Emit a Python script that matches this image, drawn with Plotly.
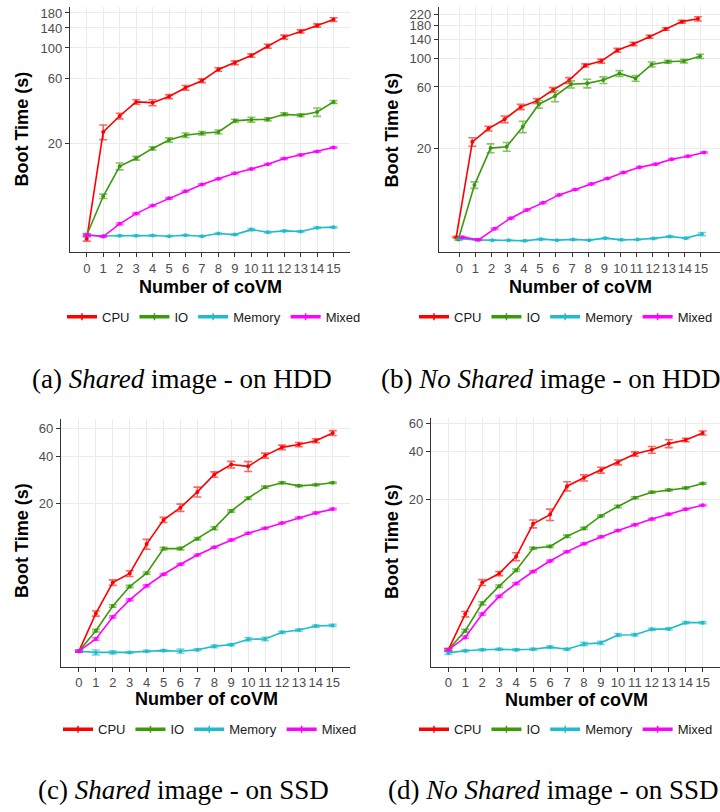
import plotly.graph_objects as go

# ---------------- data ----------------
coVM = list(range(16))
x_tick_labels = [str(i) for i in coVM]
workloads = ["CPU", "IO", "Memory", "Mixed"]

# (a) Shared image - on HDD
a_cpu = [4.05, 24.4, 31.9, 40.4, 39.9, 44.2, 51.3, 57.7, 69.7, 78.0, 88.1, 103, 120, 132, 146, 161]
a_cpu_err = [0.15, 3.0, 1.5, 1.5, 2.0, 1.5, 2.0, 1.8, 2.0, 2.5, 2.5, 3.5, 4.0, 3.5, 4.0, 5.0]
a_io = [4.32, 8.28, 13.7, 15.7, 18.5, 21.3, 23.1, 23.9, 24.4, 29.4, 30.0, 30.2, 32.8, 32.3, 34.1, 40.4]
a_io_err = [0.05, 0.3, 0.8, 0.5, 0.5, 0.8, 0.9, 0.7, 0.8, 0.8, 1.2, 0.8, 0.8, 0.8, 2.4, 1.0]
a_mem = [4.32, 4.25, 4.27, 4.27, 4.29, 4.23, 4.30, 4.23, 4.43, 4.35, 4.73, 4.53, 4.63, 4.58, 4.88, 4.93]
a_mem_err = [0.05, 0.03, 0.03, 0.03, 0.03, 0.03, 0.03, 0.03, 0.04, 0.04, 0.08, 0.05, 0.05, 0.05, 0.06, 0.06]
a_mix = [4.32, 4.21, 5.21, 6.19, 7.08, 8.0, 9.0, 10.1, 11.1, 12.2, 13.1, 14.2, 15.6, 16.6, 17.6, 18.8]
a_mix_err = [0.1, 0.05, 0.08, 0.08, 0.08, 0.1, 0.1, 0.1, 0.12, 0.15, 0.15, 0.15, 0.2, 0.2, 0.2, 0.2]
a_yticks = [20, 60, 100, 140, 180]

# (b) No Shared image - on HDD
b_cpu = [4.04, 22.4, 28.4, 33.6, 41.9, 46.7, 56.8, 67.5, 88.3, 95.5, 116, 130, 148, 170, 194, 204]
b_cpu_err = [0.05, 1.7, 1.2, 2.0, 2.0, 2.0, 2.5, 3.5, 2.5, 3.5, 4.0, 4.0, 4.0, 4.0, 5.0, 8.0]
b_io = [3.88, 10.3, 20.0, 20.5, 29.4, 44.0, 51.0, 62.9, 64.0, 67.9, 76.5, 70.0, 89.9, 94.4, 95.5, 104]
b_io_err = [0.05, 0.6, 1.6, 1.6, 3.0, 3.0, 5.0, 4.0, 5.0, 4.0, 4.0, 3.5, 4.0, 2.5, 3.0, 4.0]
b_mem = [3.93, 3.85, 3.83, 3.83, 3.79, 3.90, 3.83, 3.87, 3.83, 3.97, 3.85, 3.87, 3.95, 4.09, 3.97, 4.27]
b_mem_err = [0.05, 0.03, 0.03, 0.03, 0.03, 0.04, 0.03, 0.03, 0.03, 0.04, 0.03, 0.03, 0.04, 0.05, 0.04, 0.12]
b_mix = [4.04, 3.85, 4.69, 5.68, 6.59, 7.48, 8.63, 9.49, 10.5, 11.6, 12.9, 14.2, 15.0, 16.4, 17.3, 18.5]
b_mix_err = [0.05, 0.05, 0.06, 0.07, 0.08, 0.09, 0.1, 0.1, 0.12, 0.13, 0.15, 0.15, 0.17, 0.18, 0.2, 0.2]
b_yticks = [20, 60, 100, 140, 180, 220]

# (c) Shared image - on SSD
c_cpu = [2.28, 3.97, 6.25, 7.14, 11.0, 15.7, 18.8, 23.7, 30.6, 35.4, 34.5, 40.4, 45.6, 47.5, 50.3, 56.3]
c_cpu_err = [0.03, 0.15, 0.25, 0.3, 0.8, 0.6, 1.0, 1.7, 1.2, 1.7, 2.5, 1.5, 1.5, 1.5, 1.5, 2.0]
c_io = [2.28, 3.08, 4.43, 5.90, 7.18, 10.3, 10.3, 11.9, 13.9, 17.9, 21.6, 25.4, 27.1, 25.9, 26.3, 27.1]
c_io_err = [0.03, 0.06, 0.08, 0.1, 0.12, 0.2, 0.2, 0.2, 0.3, 0.3, 0.4, 0.4, 0.4, 0.3, 0.3, 0.3]
c_mem = [2.28, 2.24, 2.24, 2.24, 2.28, 2.30, 2.28, 2.33, 2.45, 2.51, 2.72, 2.73, 3.01, 3.11, 3.30, 3.33]
c_mem_err = [0.02, 0.08, 0.05, 0.03, 0.03, 0.03, 0.07, 0.03, 0.05, 0.04, 0.07, 0.07, 0.05, 0.05, 0.05, 0.05]
c_mix = [2.28, 2.73, 3.77, 4.85, 5.96, 7.06, 8.18, 9.38, 10.5, 11.7, 12.9, 13.9, 15.0, 16.2, 17.4, 18.4]
c_mix_err = [0.03, 0.05, 0.06, 0.07, 0.08, 0.09, 0.1, 0.1, 0.12, 0.13, 0.15, 0.15, 0.17, 0.18, 0.2, 0.2]
c_yticks = [20, 40, 60]

# (d) No Shared image - on SSD
d_cpu = [2.27, 3.80, 6.0, 6.83, 8.72, 14.0, 16.0, 24.1, 27.2, 30.4, 34.0, 38.4, 40.8, 44.6, 47.0, 52.0]
d_cpu_err = [0.05, 0.15, 0.25, 0.2, 0.5, 0.8, 1.3, 1.6, 1.2, 1.3, 1.2, 1.2, 2.0, 2.5, 1.2, 1.5]
d_io = [2.27, 2.99, 4.44, 5.69, 7.16, 9.84, 10.1, 11.7, 13.1, 15.7, 18.0, 20.4, 22.1, 22.8, 23.5, 25.1]
d_io_err = [0.03, 0.06, 0.1, 0.1, 0.12, 0.15, 0.15, 0.2, 0.2, 0.2, 0.3, 0.3, 0.3, 0.3, 0.3, 0.3]
d_mem = [2.17, 2.24, 2.27, 2.29, 2.27, 2.29, 2.36, 2.29, 2.47, 2.51, 2.81, 2.82, 3.05, 3.07, 3.36, 3.36]
d_mem_err = [0.05, 0.03, 0.03, 0.03, 0.03, 0.03, 0.04, 0.03, 0.06, 0.06, 0.06, 0.05, 0.05, 0.05, 0.05, 0.05]
d_mix = [2.27, 2.72, 3.80, 4.91, 5.92, 7.03, 8.19, 9.37, 10.5, 11.6, 12.7, 13.8, 15.0, 16.1, 17.3, 18.3]
d_mix_err = [0.03, 0.05, 0.06, 0.07, 0.08, 0.09, 0.1, 0.1, 0.12, 0.13, 0.15, 0.15, 0.17, 0.18, 0.2, 0.2]
d_yticks = [20, 40, 60]

captions = [
    "(a) <i>Shared</i> image - on HDD",
    "(b) <i>No Shared</i> image - on HDD",
    "(c) <i>Shared</i> image - on SSD",
    "(d) <i>No Shared</i> image - on SSD",
]

# ---------------- styling ----------------
W, H = 720, 812
line_colors = ["#FF0000", "#3A9A0A", "#1FBCCB", "#FF00FF"]
err_colors = ["rgba(255,0,0,0.6)", "rgba(58,154,10,0.6)", "rgba(31,188,203,0.6)", "rgba(255,0,255,0.6)"]
tick_col = "#4D4D4D"


def px_x(p):
    return p / W


def px_y(p):
    return 1 - p / H


panels = [
    dict(vals=[a_cpu, a_io, a_mem, a_mix], errs=[a_cpu_err, a_io_err, a_mem_err, a_mix_err],
         yticks=a_yticks, dodge=[0, 0, 0, 0],
         box=(70, 350, 4, 250), xr=[-1.02, 16.0], yr=[0.511, 2.299],
         ytitle=(22, 127), xtitle=(210, 285), legend=(214, 315, "center"), cap=(182, 377)),
    dict(vals=[b_cpu, b_io, b_mem, b_mix], errs=[b_cpu_err, b_io_err, b_mem_err, b_mix_err],
         yticks=b_yticks, dodge=[-0.19, -0.06, 0.06, 0.19],
         box=(439, 720, 4, 250), xr=[-1.26, 16.18], yr=[0.490, 2.402],
         ytitle=(392, 127), xtitle=(580, 285), legend=(718, 315, "right"), cap=(550, 377)),
    dict(vals=[c_cpu, c_io, c_mem, c_mix], errs=[c_cpu_err, c_io_err, c_mem_err, c_mix_err],
         yticks=c_yticks, dodge=[0, 0, 0, 0],
         box=(61, 350, 418, 666), xr=[-1.06, 16.02], yr=[0.260, 1.837],
         ytitle=(22, 540), xtitle=(206, 699), legend=(210, 729, "center"), cap=(183, 790)),
    dict(vals=[d_cpu, d_io, d_mem, d_mix], errs=[d_cpu_err, d_io_err, d_mem_err, d_mix_err],
         yticks=d_yticks, dodge=[0, 0, 0, 0],
         box=(431, 720, 417, 666), xr=[-1.02, 16.02], yr=[0.251, 1.807],
         ytitle=(392, 540), xtitle=(576, 700), legend=(718, 729, "right"), cap=(553, 790)),
]

fig = go.Figure()
layout = dict(
    width=W, height=H, margin=dict(l=0, r=0, t=0, b=0),
    paper_bgcolor="white", plot_bgcolor="white",
    font=dict(family="Liberation Sans, Arial, sans-serif", color="#000000"),
    annotations=[],
)

for i, p in enumerate(panels):
    n = "" if i == 0 else str(i + 1)
    xa, ya = "x" + n, "y" + n
    leg = "legend" + n
    for k, name in enumerate(workloads):
        xs = [v + p["dodge"][k] for v in coVM]
        fig.add_trace(go.Scatter(
            x=xs, y=p["vals"][k], name=name, mode="lines+markers",
            xaxis=xa, yaxis=ya, showlegend=False,
            line=dict(color=line_colors[k], width=1.6),
            marker=dict(color=line_colors[k], size=4),
            error_y=dict(type="data", array=p["errs"][k], visible=True,
                         color=err_colors[k], thickness=1.6, width=4),
        ))
    # legend entries (thicker key, as in the original figure)
    for k, name in enumerate(workloads):
        fig.add_trace(go.Scatter(
            x=[None], y=[None], name=name, mode="lines+markers",
            xaxis=xa, yaxis=ya, legend=leg, showlegend=True,
            line=dict(color=line_colors[k], width=3.5),
            marker=dict(color=line_colors[k], size=5, symbol="cross-thin",
                        line=dict(color=line_colors[k], width=1.5)),
        ))
    x0, x1, y0, y1 = p["box"]
    layout["xaxis" + n] = dict(
        domain=[px_x(x0), px_x(x1)], anchor=ya, range=p["xr"],
        tickmode="array", tickvals=coVM, ticktext=x_tick_labels, tickangle=0,
        showgrid=True, gridcolor="#EBEBEB", gridwidth=1, zeroline=False,
        showline=True, linecolor="#333333", linewidth=1.3,
        ticks="outside", ticklen=4, tickcolor="#333333", tickwidth=1,
        tickfont=dict(size=13, color=tick_col), fixedrange=True,
    )
    layout["yaxis" + n] = dict(
        domain=[px_y(y1), px_y(y0)], anchor=xa, type="log", range=p["yr"],
        tickmode="array", tickvals=p["yticks"], ticktext=[str(t) for t in p["yticks"]],
        showgrid=True, gridcolor="#EBEBEB", gridwidth=1, zeroline=False,
        showline=True, linecolor="#333333", linewidth=1.3,
        ticks="outside", ticklen=4, tickcolor="#333333", tickwidth=1,
        tickfont=dict(size=13, color=tick_col), fixedrange=True,
    )
    lx, ly, lanchor = p["legend"]
    layout[leg] = dict(
        orientation="h", x=px_x(lx), y=px_y(ly), xanchor=lanchor, yanchor="middle",
        xref="paper", yref="paper", bgcolor="rgba(0,0,0,0)",
        font=dict(size=13, color="#1a1a1a"), itemwidth=30, itemclick=False,
    )
    tx, ty = p["ytitle"]
    layout["annotations"].append(dict(
        text="<b>Boot Time (s)</b>", x=px_x(tx), y=px_y(ty), xref="paper", yref="paper",
        xanchor="center", yanchor="middle", textangle=-90, showarrow=False,
        font=dict(size=18, color="#000000")))
    tx, ty = p["xtitle"]
    layout["annotations"].append(dict(
        text="<b>Number of coVM</b>", x=px_x(tx), y=px_y(ty), xref="paper", yref="paper",
        xanchor="center", yanchor="middle", showarrow=False,
        font=dict(size=18, color="#000000")))
    cx, cy = p["cap"]
    layout["annotations"].append(dict(
        text=captions[i], x=px_x(cx), y=px_y(cy), xref="paper", yref="paper",
        xanchor="center", yanchor="middle", showarrow=False,
        font=dict(size=27, family="Liberation Serif, Times New Roman, serif", color="#000000")))

fig.update_layout(**layout)
fig.write_html(
    "out.html",
    config={"displayModeBar": False},
    post_script="document.body.style.margin='0';document.body.style.overflow='hidden';",
)
